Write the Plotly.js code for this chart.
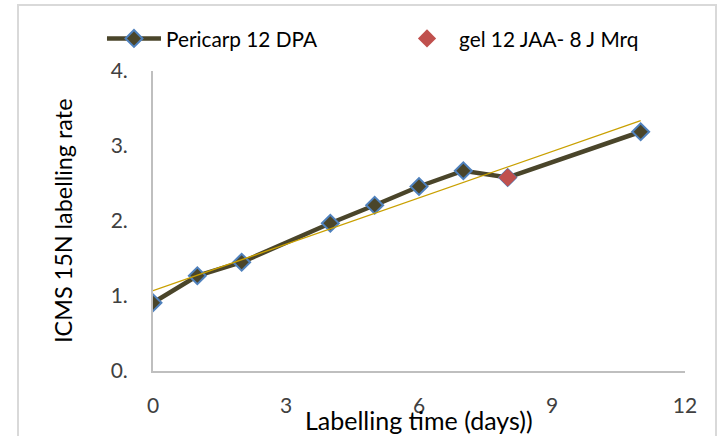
<!DOCTYPE html>
<html><head><meta charset="utf-8">
<script src="https://cdn.plot.ly/plotly-3.0.1.min.js"></script>
<style>
html,body{margin:0;padding:0;background:#fff;overflow:hidden}
#wrap{position:relative;width:719px;height:436px;overflow:hidden}
#chart{width:719px;height:436px}
#frame{position:absolute;left:17px;top:4px;width:700px;height:470px;border:2px solid #D9D9D9;box-sizing:border-box;pointer-events:none}
</style></head><body>
<div id="wrap"><div id="chart"></div><div id="frame"></div></div>
<script>
// Data
const days = [0, 1, 2, 4, 5, 6, 7, 8, 11];
const pericarp = [0.91, 1.27, 1.45, 1.97, 2.21, 2.46, 2.67, 2.58, 3.19];
const gelDays = [8];
const gel = [2.58];
const xTickVals = [0, 3, 6, 9, 12];
const yTickVals = [0, 1, 2, 3, 4];
const yTickText = ['0.', '1.', '2.', '3.', '4.'];
const seriesNames = ['Pericarp 12 DPA', 'gel 12 JAA- 8 J Mrq'];
const xTitle = 'Labelling time (days))';
const yTitle = 'ICMS 15N labelling rate';

// Linear trendline (least squares, as the spreadsheet's trendline)
const n = days.length;
const mx = days.reduce((a, b) => a + b, 0) / n;
const my = pericarp.reduce((a, b) => a + b, 0) / n;
let sxy = 0, sxx = 0;
for (let i = 0; i < n; i++) { sxy += (days[i] - mx) * (pericarp[i] - my); sxx += (days[i] - mx) ** 2; }
const slope = sxy / sxx, icpt = my - slope * mx;
const trendX = [Math.min(...days), Math.max(...days)];
const trendY = trendX.map(x => icpt + slope * x);

const FAM = 'Lato';
const FONT = 'Lato, "Open Sans", sans-serif';

// fit font size so that a text spans a given pixel width
const cv = document.createElement('canvas').getContext('2d');
function fitSize(text, width) {
  cv.font = '100px ' + FAM;
  const w = cv.measureText(text).width;
  return Math.round(100 * width / w * 10) / 10;
}
const xTitleSize = fitSize(xTitle, 228);
const yTitleSize = fitSize(yTitle, 245);
const legendSize = fitSize(seriesNames[1], 181);

const traces = [
  {
    x: days, y: pericarp, name: seriesNames[0], type: 'scatter', mode: 'lines+markers',
    legend: 'legend',
    line: {color: '#4A452A', width: 4.5},
    marker: {symbol: 'diamond', size: 13, color: '#4A452A', line: {color: '#4F81BD', width: 2}}
  },
  {
    x: trendX, y: trendY, type: 'scatter', mode: 'lines', showlegend: false,
    line: {color: '#C9A000', width: 1.3}, hoverinfo: 'skip'
  },
  {
    x: gelDays, y: gel, name: seriesNames[1], type: 'scatter', mode: 'markers',
    legend: 'legend2',
    marker: {symbol: 'diamond', size: 14, color: '#C0504D'}
  }
];

const legBase = {
  orientation: 'h', yanchor: 'middle', y: 1.107, xanchor: 'left',
  font: {family: FONT, size: legendSize, color: '#000'},
  itemwidth: 54, bgcolor: 'rgba(0,0,0,0)', borderwidth: 0
};

const layout = {
  width: 719, height: 436,
  margin: {l: 153, r: 34, t: 71, b: 65, pad: 0},
  paper_bgcolor: '#fff', plot_bgcolor: '#fff',
  font: {family: FONT, size: 21, color: '#404040'},
  showlegend: true,
  legend: Object.assign({}, legBase, {x: -0.0959}),
  legend2: Object.assign({}, legBase, {x: 0.4549}),
  xaxis: {
    range: [0, 12], tickvals: xTickVals, ticks: '', showgrid: false, zeroline: false,
    showline: true, linecolor: '#BFBFBF', linewidth: 2,
    ticklabelstandoff: 15,
    tickfont: {family: FONT, size: 21, color: '#404040'}
  },
  yaxis: {
    range: [0, 4], tickvals: yTickVals, ticktext: yTickText, ticks: '', showgrid: false, zeroline: false,
    showline: true, linecolor: '#BFBFBF', linewidth: 2,
    ticklabelstandoff: 19,
    tickfont: {family: FONT, size: 21, color: '#404040'}
  },
  annotations: [
    {text: xTitle, xref: 'paper', yref: 'paper', x: 0.5, y: -0.163, xanchor: 'center', yanchor: 'middle',
     showarrow: false, font: {family: FONT, size: xTitleSize, color: '#000'}},
    {text: yTitle, xref: 'paper', yref: 'paper', x: -0.1692, y: 0.5, xanchor: 'center', yanchor: 'middle',
     textangle: -90, showarrow: false, font: {family: FONT, size: yTitleSize, color: '#000'}}
  ]
};

Plotly.newPlot('chart', traces, layout, {displayModeBar: false, staticPlot: true});
</script>
</body></html>
